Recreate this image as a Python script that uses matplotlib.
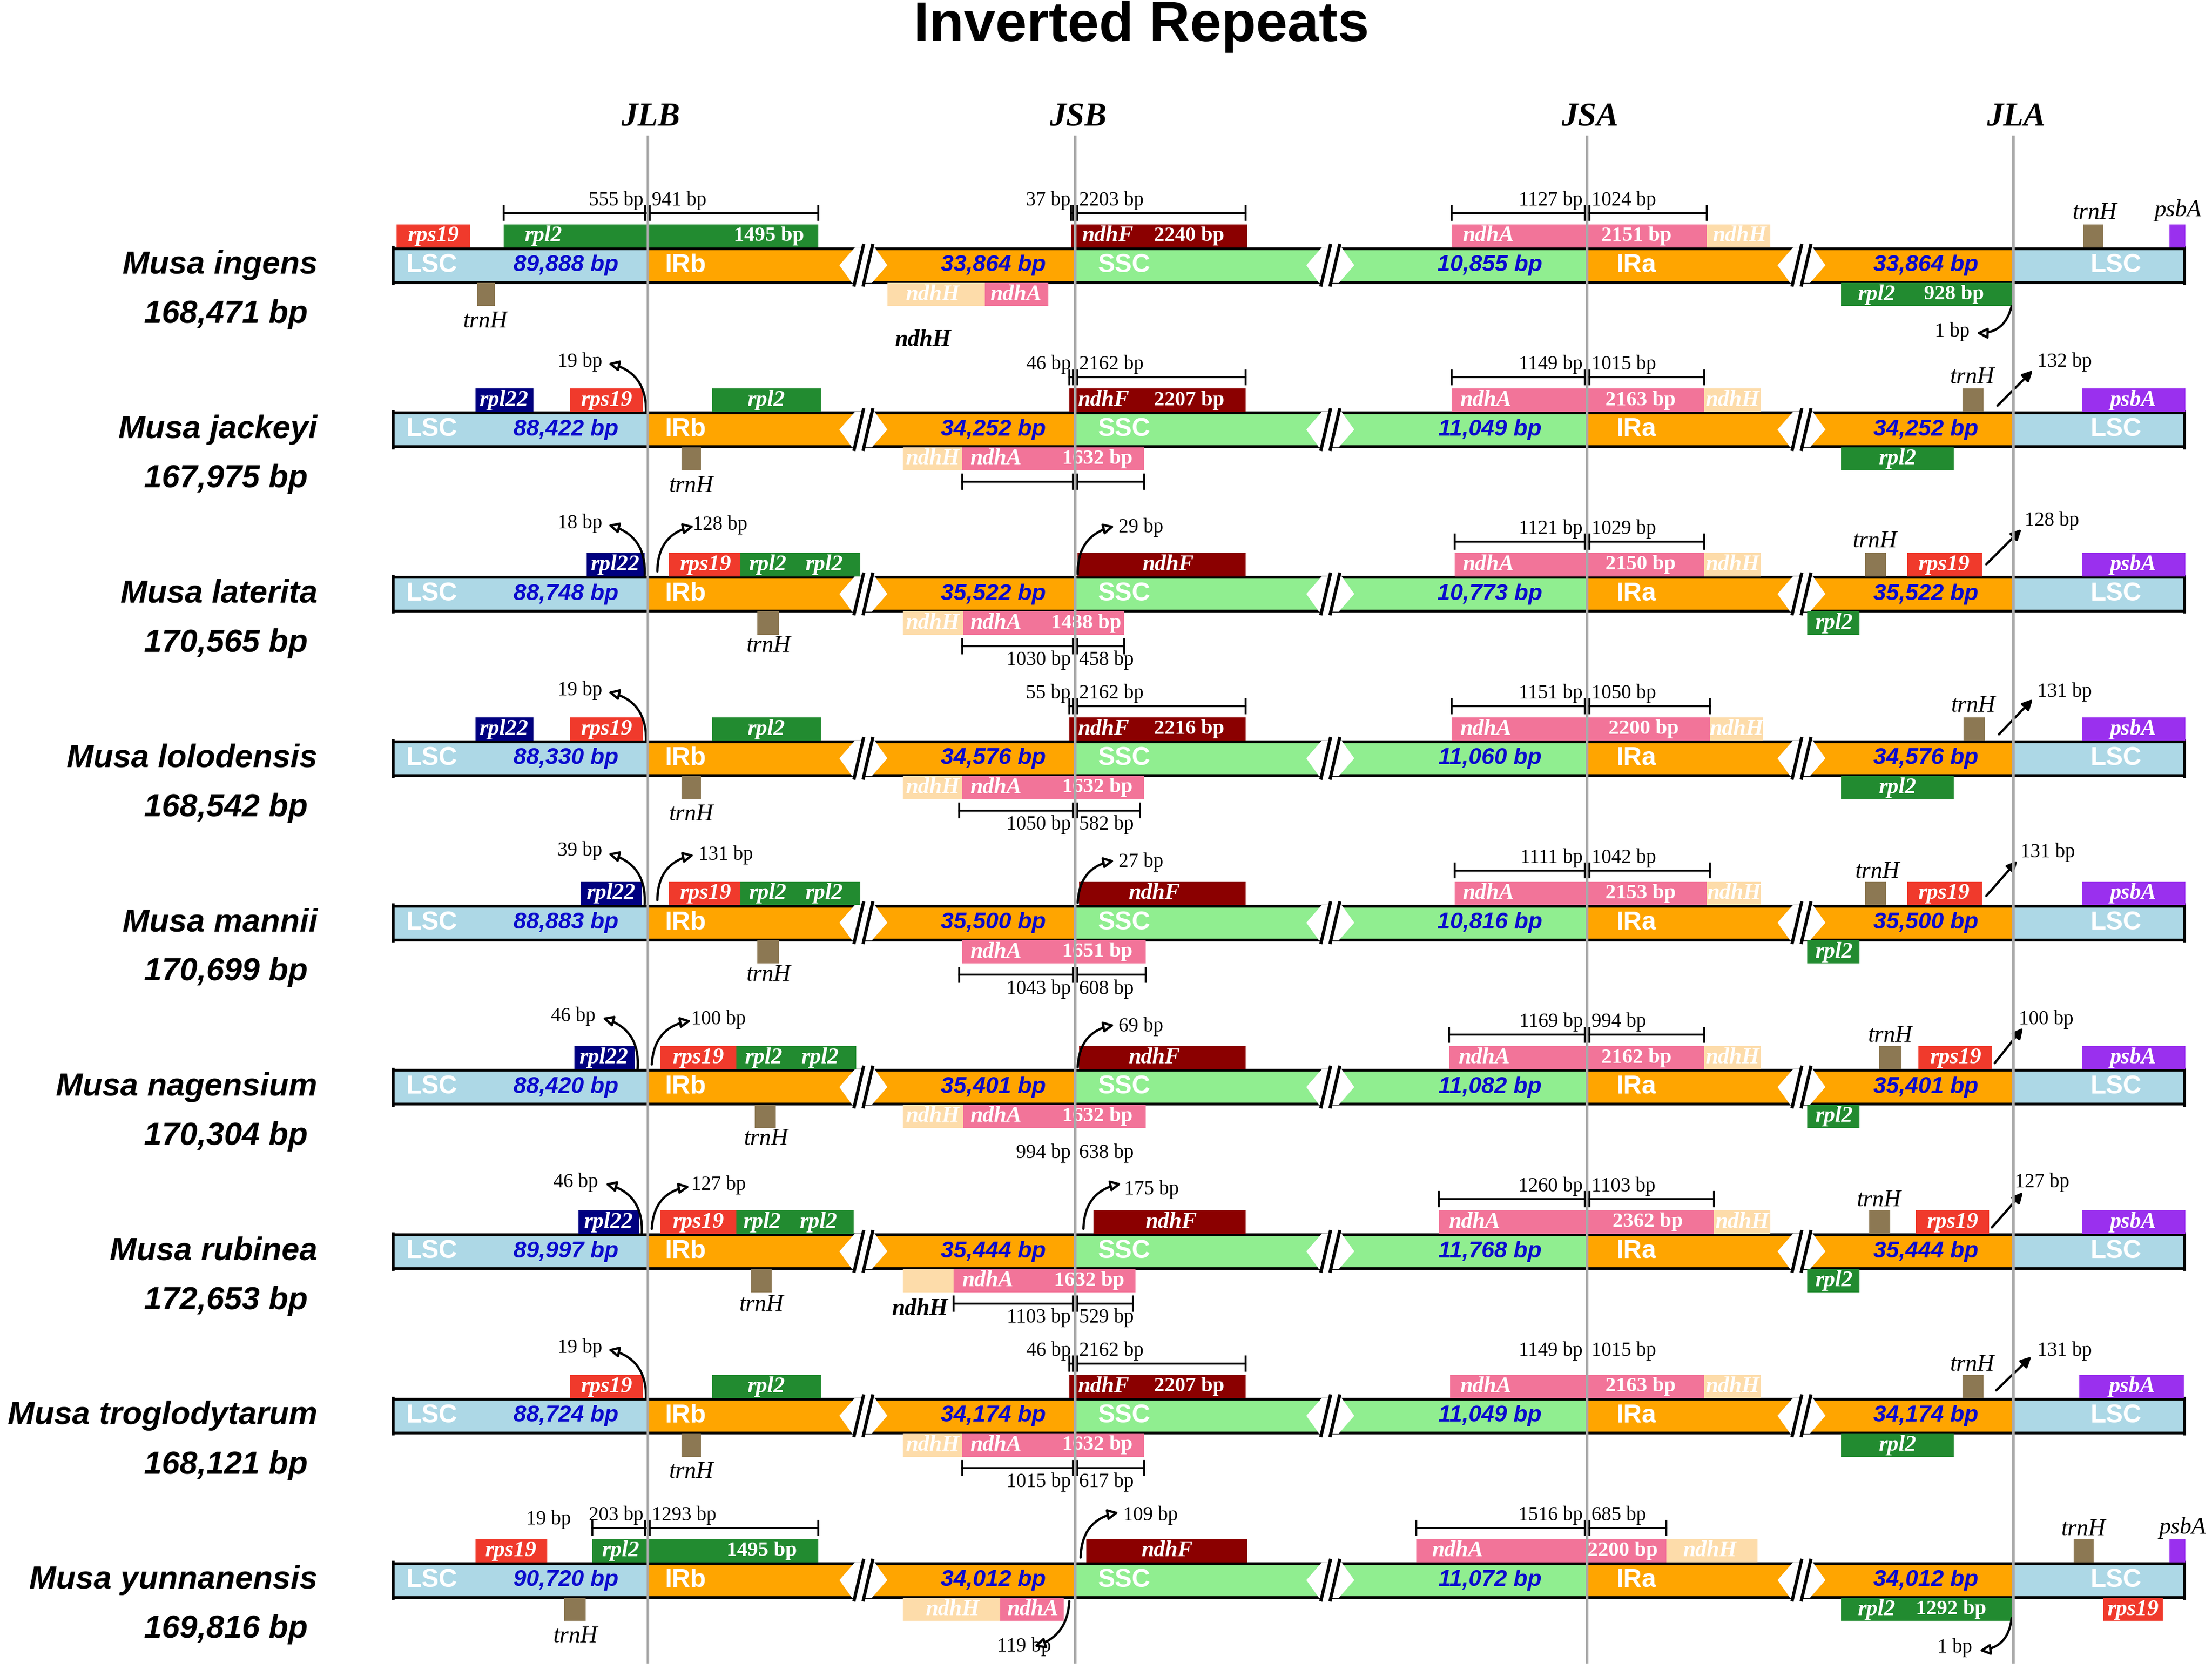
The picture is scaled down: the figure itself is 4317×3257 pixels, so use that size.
import matplotlib
matplotlib.use("Agg")
import matplotlib.pyplot as plt
from matplotlib.patches import Rectangle, Polygon, FancyArrowPatch

# ---------------- data ----------------
title = "Inverted Repeats"
junctions = ["JLB", "JSB", "JSA", "JLA"]
species = ["Musa ingens", "Musa jackeyi", "Musa laterita", "Musa lolodensis",
           "Musa mannii", "Musa nagensium", "Musa rubinea",
           "Musa troglodytarum", "Musa yunnanensis"]
genome_bp = ["168,471 bp", "167,975 bp", "170,565 bp", "168,542 bp",
             "170,699 bp", "170,304 bp", "172,653 bp", "168,121 bp", "169,816 bp"]
lsc_bp = ["89,888", "88,422", "88,748", "88,330", "88,883", "88,420",
          "89,997", "88,724", "90,720"]
ir_bp = ["33,864", "34,252", "35,522", "34,576", "35,500", "35,401",
         "35,444", "34,174", "34,012"]
ssc_bp = ["10,855", "11,049", "10,773", "11,060", "10,816", "11,082",
          "11,768", "11,049", "11,072"]

# ---------------- layout (schematic positions, canvas units) ----------------
CW, CH = 1568, 1183
ROW0, ROWSTEP = 188, 116.5
JX = [459, 762, 1125, 1427]
BAR_X0, BAR_X1 = 278, 1549
BREAKS = [612, 943, 1277]

# per-row feature layout: boxes, tags, brackets, arrows
FEATURES = [
    [  # ingens
        ("box", "rps19", "u", 281, 333, [("rps19", 307)]),
        ("box", "rpl2", "u", 357, 580, [("rpl2", 385), ("1495 bp", 545)]),
        ("box", "trnH", "d", 338, 351, []), ("tag", "trnH", 344, 40),
        ("box", "ndhF", "u", 759, 884, [("ndhF", 785), ("2240 bp", 843)]),
        ("box", "ndhH", "d", 629, 698, [("ndhH", 661)]),
        ("box", "ndhA", "d", 698, 743, [("ndhA", 720)]),
        ("tagb", "ndhH", 654, 53),
        ("box", "ndhA", "u", 1029, 1210, [("ndhA", 1055), ("2151 bp", 1160)]),
        ("box", "ndhH", "u", 1210, 1255, [("ndhH", 1233)]),
        ("box", "rpl2", "d", 1305, 1426, [("rpl2", 1330), ("928 bp", 1385)]),
        ("box", "trnH", "u", 1477, 1491, []), ("tag", "trnH", 1485, -37),
        ("box", "psbA", "u", 1538, 1549, []), ("tag", "psbA", 1544, -39),
        ("brk", "u", 357, 459, 580, "555 bp", "941 bp", True),
        ("brk", "u", 759, 762, 883, "37 bp", "2203 bp", True),
        ("brk", "u", 1029, 1125, 1210, "1127 bp", "1024 bp", True),
        ("arc", (1426, 29), (1401, 48), -0.4, "1 bp", 1396, 47, "right"),
    ],
    [  # jackeyi
        ("box", "rpl22", "u", 337, 378, [("rpl22", 357)]),
        ("box", "rps19", "u", 404, 456, [("rps19", 430)]),
        ("arc", (458, -13), (431, -47), 0.4, "19 bp", 427, -48, "right"),
        ("box", "rpl2", "u", 505, 582, [("rpl2", 543)]),
        ("box", "trnH", "d", 483, 497, []), ("tag", "trnH", 490, 40),
        ("box", "ndhF", "u", 758, 883, [("ndhF", 782), ("2207 bp", 843)]),
        ("brk", "u", 758, 762, 883, "46 bp", "2162 bp", True),
        ("box", "ndhH", "d", 640, 682, [("ndhH", 661)]),
        ("box", "ndhA", "d", 682, 811, [("ndhA", 706), ("1632 bp", 778)]),
        ("brk", "d", 682, 762, 811, "", "", True),
        ("box", "ndhA", "u", 1029, 1208, [("ndhA", 1053), ("2163 bp", 1163)]),
        ("box", "ndhH", "u", 1208, 1248, [("ndhH", 1228)]),
        ("brk", "u", 1029, 1125, 1208, "1149 bp", "1015 bp", True),
        ("box", "trnH", "u", 1391, 1406, []), ("tag", "trnH", 1398, -37),
        ("arw", (1416, -17), (1441, -42), "132 bp", 1444, -48),
        ("box", "rpl2", "d", 1305, 1385, [("rpl2", 1345)]),
        ("box", "psbA", "u", 1476, 1549, [("psbA", 1512)]),
    ],
    [  # laterita
        ("box", "rpl22", "u", 416, 457, [("rpl22", 436)]),
        ("arc", (457, -13), (431, -49), 0.4, "18 bp", 427, -50, "right"),
        ("box", "rps19", "u", 474, 525, [("rps19", 500)]),
        ("box", "rpl2", "u", 525, 610, [("rpl2", 544), ("rpl2", 584)]),
        ("arc", (466, -16), (492, -48), -0.4, "128 bp", 491, -49, "left"),
        ("box", "trnH", "d", 537, 552, []), ("tag", "trnH", 545, 37),
        ("box", "ndhF", "u", 764, 883, [("ndhF", 828)]),
        ("arc", (764, -14), (790, -48), -0.4, "29 bp", 793, -47, "left"),
        ("box", "ndhH", "d", 640, 683, [("ndhH", 661)]),
        ("box", "ndhA", "d", 683, 797, [("ndhA", 706), ("1488 bp", 770)]),
        ("brk", "d", 682, 762, 797, "1030 bp", "458 bp", True),
        ("box", "ndhA", "u", 1031, 1208, [("ndhA", 1055), ("2150 bp", 1163)]),
        ("box", "ndhH", "u", 1208, 1248, [("ndhH", 1228)]),
        ("brk", "u", 1031, 1125, 1208, "1121 bp", "1029 bp", True),
        ("box", "trnH", "u", 1322, 1337, []), ("tag", "trnH", 1329, -37),
        ("box", "rps19", "u", 1352, 1405, [("rps19", 1378)]),
        ("arw", (1408, -21), (1433, -46), "128 bp", 1435, -52),
        ("box", "rpl2", "d", 1281, 1318, [("rpl2", 1300)]),
        ("box", "psbA", "u", 1476, 1549, [("psbA", 1512)]),
    ],
    [  # lolodensis
        ("box", "rpl22", "u", 337, 378, [("rpl22", 357)]),
        ("box", "rps19", "u", 404, 456, [("rps19", 430)]),
        ("arc", (458, -13), (431, -47), 0.4, "19 bp", 427, -48, "right"),
        ("box", "rpl2", "u", 505, 582, [("rpl2", 543)]),
        ("box", "trnH", "d", 483, 497, []), ("tag", "trnH", 490, 40),
        ("box", "ndhF", "u", 758, 883, [("ndhF", 782), ("2216 bp", 843)]),
        ("brk", "u", 758, 762, 883, "55 bp", "2162 bp", True),
        ("box", "ndhH", "d", 640, 682, [("ndhH", 661)]),
        ("box", "ndhA", "d", 682, 811, [("ndhA", 706), ("1632 bp", 778)]),
        ("brk", "d", 680, 762, 808, "1050 bp", "582 bp", True),
        ("box", "ndhA", "u", 1029, 1212, [("ndhA", 1053), ("2200 bp", 1165)]),
        ("box", "ndhH", "u", 1212, 1250, [("ndhH", 1231)]),
        ("brk", "u", 1029, 1125, 1212, "1151 bp", "1050 bp", True),
        ("box", "trnH", "u", 1392, 1407, []), ("tag", "trnH", 1399, -37),
        ("arw", (1417, -17), (1441, -42), "131 bp", 1444, -47),
        ("box", "rpl2", "d", 1305, 1385, [("rpl2", 1345)]),
        ("box", "psbA", "u", 1476, 1549, [("psbA", 1512)]),
    ],
    [  # mannii
        ("box", "rpl22", "u", 412, 455, [("rpl22", 433)]),
        ("arc", (457, -13), (431, -49), 0.4, "39 bp", 427, -51, "right"),
        ("box", "rps19", "u", 474, 525, [("rps19", 500)]),
        ("box", "rpl2", "u", 525, 610, [("rpl2", 544), ("rpl2", 584)]),
        ("arc", (466, -16), (492, -48), -0.4, "131 bp", 495, -48, "left"),
        ("box", "trnH", "d", 537, 552, []), ("tag", "trnH", 545, 37),
        ("box", "ndhF", "u", 765, 883, [("ndhF", 818)]),
        ("arc", (764, -14), (790, -44), -0.4, "27 bp", 793, -43, "left"),
        ("box", "ndhA", "d", 682, 812, [("ndhA", 706), ("1651 bp", 778)]),
        ("brk", "d", 680, 762, 812, "1043 bp", "608 bp", True),
        ("box", "ndhA", "u", 1031, 1210, [("ndhA", 1055), ("2153 bp", 1163)]),
        ("box", "ndhH", "u", 1210, 1248, [("ndhH", 1229)]),
        ("brk", "u", 1031, 1125, 1212, "1111 bp", "1042 bp", True),
        ("box", "trnH", "u", 1322, 1337, []), ("tag", "trnH", 1331, -36),
        ("box", "rps19", "u", 1352, 1405, [("rps19", 1378)]),
        ("arw", (1408, -19), (1430, -44), "131 bp", 1432, -50),
        ("box", "rpl2", "d", 1281, 1318, [("rpl2", 1300)]),
        ("box", "psbA", "u", 1476, 1549, [("psbA", 1512)]),
    ],
    [  # nagensium
        ("box", "rpl22", "u", 407, 450, [("rpl22", 428)]),
        ("arc", (452, -13), (427, -49), 0.4, "46 bp", 422, -50, "right"),
        ("box", "rps19", "u", 468, 522, [("rps19", 495)]),
        ("box", "rpl2", "u", 522, 607, [("rpl2", 541), ("rpl2", 581)]),
        ("arc", (462, -16), (490, -47), -0.4, "100 bp", 490, -48, "left"),
        ("box", "trnH", "d", 535, 550, []), ("tag", "trnH", 543, 37),
        ("box", "ndhF", "u", 765, 883, [("ndhF", 818)]),
        ("arc", (764, -14), (790, -44), -0.4, "69 bp", 793, -43, "left"),
        ("box", "ndhH", "d", 640, 683, [("ndhH", 661)]),
        ("box", "ndhA", "d", 683, 812, [("ndhA", 706), ("1632 bp", 778)]),
        ("brk", "d", 683, 762, 812, "994 bp", "638 bp", False),
        ("box", "ndhA", "u", 1027, 1208, [("ndhA", 1052), ("2162 bp", 1160)]),
        ("box", "ndhH", "u", 1208, 1248, [("ndhH", 1228)]),
        ("brk", "u", 1027, 1125, 1208, "1169 bp", "994 bp", True),
        ("box", "trnH", "u", 1332, 1348, []), ("tag", "trnH", 1340, -36),
        ("box", "rps19", "u", 1360, 1412, [("rps19", 1386)]),
        ("arw", (1414, -17), (1434, -42), "100 bp", 1431, -48),
        ("box", "rpl2", "d", 1281, 1318, [("rpl2", 1300)]),
        ("box", "psbA", "u", 1476, 1549, [("psbA", 1512)]),
    ],
    [  # rubinea
        ("box", "rpl22", "u", 410, 453, [("rpl22", 431)]),
        ("arc", (455, -13), (429, -48), 0.4, "46 bp", 424, -49, "right"),
        ("box", "rps19", "u", 468, 522, [("rps19", 495)]),
        ("box", "rpl2", "u", 522, 605, [("rpl2", 540), ("rpl2", 580)]),
        ("arc", (462, -16), (489, -46), -0.4, "127 bp", 490, -47, "left"),
        ("box", "trnH", "d", 532, 547, []), ("tag", "trnH", 540, 38),
        ("box", "ndhF", "u", 775, 883, [("ndhF", 830)]),
        ("arc", (768, -16), (795, -48), -0.4, "175 bp", 797, -44, "left"),
        ("box", "ndhH", "d", 640, 676, []),
        ("box", "ndhA", "d", 676, 805, [("ndhA", 700), ("1632 bp", 772)]),
        ("tagb", "ndhH", 652, 41),
        ("brk", "d", 676, 762, 803, "1103 bp", "529 bp", True),
        ("box", "ndhA", "u", 1020, 1215, [("ndhA", 1045), ("2362 bp", 1168)]),
        ("box", "ndhH", "u", 1215, 1255, [("ndhH", 1235)]),
        ("brk", "u", 1020, 1125, 1215, "1260 bp", "1103 bp", True),
        ("box", "trnH", "u", 1325, 1340, []), ("tag", "trnH", 1332, -36),
        ("box", "rps19", "u", 1358, 1410, [("rps19", 1384)]),
        ("arw", (1412, -17), (1434, -42), "127 bp", 1428, -49),
        ("box", "rpl2", "d", 1281, 1318, [("rpl2", 1300)]),
        ("box", "psbA", "u", 1476, 1549, [("psbA", 1512)]),
    ],
    [  # troglodytarum
        ("box", "rps19", "u", 404, 456, [("rps19", 430)]),
        ("arc", (458, -13), (431, -47), 0.4, "19 bp", 427, -48, "right"),
        ("box", "rpl2", "u", 505, 582, [("rpl2", 543)]),
        ("box", "trnH", "d", 483, 497, []), ("tag", "trnH", 490, 40),
        ("box", "ndhF", "u", 758, 883, [("ndhF", 782), ("2207 bp", 843)]),
        ("brk", "u", 758, 762, 883, "46 bp", "2162 bp", True),
        ("box", "ndhH", "d", 640, 682, [("ndhH", 661)]),
        ("box", "ndhA", "d", 682, 811, [("ndhA", 706), ("1632 bp", 778)]),
        ("brk", "d", 682, 762, 811, "1015 bp", "617 bp", True),
        ("box", "ndhA", "u", 1028, 1208, [("ndhA", 1053), ("2163 bp", 1163)]),
        ("box", "ndhH", "u", 1208, 1248, [("ndhH", 1228)]),
        ("brk", "u", 1028, 1125, 1208, "1149 bp", "1015 bp", False),
        ("box", "trnH", "u", 1391, 1406, []), ("tag", "trnH", 1398, -36),
        ("arw", (1415, -18), (1440, -42), "131 bp", 1444, -46),
        ("box", "rpl2", "d", 1305, 1385, [("rpl2", 1345)]),
        ("box", "psbA", "u", 1474, 1548, [("psbA", 1511)]),
    ],
    [  # yunnanensis
        ("box", "rps19", "u", 337, 388, [("rps19", 362)]),
        ("note", "19 bp", 389, -43),
        ("box", "rpl2", "u", 420, 580, [("rpl2", 440), ("1495 bp", 540)]),
        ("brk", "u", 420, 459, 580, "203 bp", "1293 bp", True),
        ("box", "trnH", "d", 400, 415, []), ("tag", "trnH", 408, 40),
        ("box", "ndhF", "u", 770, 884, [("ndhF", 827)]),
        ("arc", (766, -16), (793, -48), -0.4, "109 bp", 796, -46, "left"),
        ("box", "ndhH", "d", 640, 709, [("ndhH", 675)]),
        ("box", "ndhA", "d", 709, 754, [("ndhA", 732)]),
        ("arc", (758, 15), (733, 47), -0.35, "119 bp", 726, 47, "center"),
        ("box", "ndhA", "u", 1004, 1181, [("ndhA", 1033), ("2200 bp", 1150)]),
        ("box", "ndhH", "u", 1181, 1246, [("ndhH", 1212)]),
        ("brk", "u", 1004, 1125, 1181, "1516 bp", "685 bp", True),
        ("box", "rpl2", "d", 1305, 1426, [("rpl2", 1330), ("1292 bp", 1383)]),
        ("arc", (1426, 27), (1403, 50), -0.4, "1 bp", 1398, 48, "right"),
        ("box", "trnH", "u", 1470, 1484, []), ("tag", "trnH", 1477, -36),
        ("box", "psbA", "u", 1538, 1549, []), ("tag", "psbA", 1547, -37),
        ("box", "rps19", "d", 1491, 1533, [("rps19", 1512)]),
    ],
]

# ---------------- styles ----------------
SERIF = "Liberation Serif"
SANS = "Liberation Sans"
COL = dict(LSC="#ADD8E6", IR="#FFA500", SSC="#90EE90",
           rps19="#F03A2C", rpl2="#228B30", rpl22="#000080", trnH="#8C7853",
           ndhF="#8B0000", ndhA="#F27499", ndhH="#FDDCAA", psbA="#9A30EE")
BLUE = "#0A0ACD"
GRAY = "#A9A9A9"

W, H, DPI = 4317, 3257, 300
fig = plt.figure(figsize=(W / DPI, H / DPI), dpi=DPI)
ax = fig.add_axes([0, 0, 1, 1])
ax.set_xlim(0, CW)
ax.set_ylim(CH, 0)
ax.axis("off")

ax.text(809, 19, title, ha="center", va="center", family=SANS,
        weight="bold", size=26.5)
for jx, jn in zip(JX, junctions):
    ax.text(jx + 2, 83, jn, ha="center", va="center", family=SERIF,
            style="italic", weight="bold", size=15.5)
    ax.plot([jx, jx], [96, 1179], color=GRAY, lw=1.2, zorder=10,
            solid_capstyle="butt")

regions = [("LSC", BAR_X0, JX[0], COL["LSC"]), ("IRb", JX[0], JX[1], COL["IR"]),
           ("SSC", JX[1], JX[2], COL["SSC"]), ("IRa", JX[2], JX[3], COL["IR"]),
           ("LSC", JX[3], BAR_X1, COL["LSC"])]
REGION_LABEL_X = [306, 486, 797, 1160, 1500]
VALUE_X = [401, 704, 1056, 1365]


def box(yc, gene, side, x0, x1, labels):
    y0, y1 = (yc - 29, yc - 12.5) if side == "u" else (yc + 12.5, yc + 29)
    ax.add_patch(Rectangle((x0, y0), x1 - x0, y1 - y0, fc=COL[gene],
                           ec="none", zorder=3))
    for t, x in labels:
        if t.endswith("bp"):
            ax.text(x, (y0 + y1) / 2, t, ha="center", va="center", family=SERIF,
                    weight="bold", size=9.8, color="white", zorder=5)
        else:
            ax.text(x, (y0 + y1) / 2, t, ha="center", va="center", family=SERIF,
                    style="italic", weight="bold", size=10.6, color="white",
                    zorder=5)


def bracket(yc, side, x0, xm, x1, lt, rt, line):
    y = yc - 37 if side == "u" else yc + 37
    ty = yc - 46 if side == "u" else yc + 47
    if line:
        ax.plot([x0, x1], [y, y], color="k", lw=0.9, zorder=6)
        for x in (x0, xm - 1.6, xm + 1.6, x1):
            ax.plot([x, x], [y - 5, y + 5], color="k", lw=0.9, zorder=6)
    if lt:
        ax.text(xm - 3, ty, lt, ha="right", va="center", family=SERIF,
                size=9.3, zorder=6)
    if rt:
        ax.text(xm + 3, ty, rt, ha="left", va="center", family=SERIF,
                size=9.3, zorder=6)


def arrow(yc, p0, p1, rad, fc):
    a = FancyArrowPatch((p0[0], yc + p0[1]), (p1[0], yc + p1[1]),
                        connectionstyle=f"arc3,rad={rad}",
                        arrowstyle="-|>,head_length=4,head_width=2",
                        mutation_scale=1, lw=1.1, ec="k", fc=fc,
                        shrinkA=0, shrinkB=0, zorder=7)
    ax.add_patch(a)


def draw_break(yc, cx):
    ax.add_patch(Polygon([(cx - 17, yc), (cx - 6, yc - 12.6), (cx + 8, yc - 12.6),
                          (cx + 17, yc), (cx + 6, yc + 12.6), (cx - 8, yc + 12.6)],
                         closed=True, fc="white", ec="none", zorder=2.5))
    ax.add_patch(Rectangle((cx - 1, yc - 14.5), 8, 3.5, fc="white", ec="none",
                           zorder=2.6))
    ax.add_patch(Rectangle((cx - 7, yc + 11), 8, 3.5, fc="white", ec="none",
                           zorder=2.6))
    ax.plot([cx - 6.5, cx], [yc + 14, yc - 14], color="k", lw=1.5, zorder=2.8)
    ax.plot([cx, cx + 6.5], [yc + 14, yc - 14], color="k", lw=1.5, zorder=2.8)


for i, sp in enumerate(species):
    yc = ROW0 + i * ROWSTEP
    ax.text(225, yc, sp, ha="right", va="center", family=SANS, style="italic",
            weight="bold", size=15.1)
    ax.text(218, yc + 35, genome_bp[i], ha="right", va="center", family=SANS,
            style="italic", weight="bold", size=15)
    for (name, x0, x1, c) in regions:
        ax.add_patch(Rectangle((x0, yc - 12.5), x1 - x0, 25, fc=c, ec="none",
                               zorder=1))
    for yy in (yc - 12, yc + 12):
        ax.plot([BAR_X0, BAR_X1], [yy, yy], color="k", lw=1.3, zorder=2,
                solid_capstyle="butt")
    for xx in (BAR_X0 + 0.6, BAR_X1 - 0.6):
        ax.plot([xx, xx], [yc - 12.8, yc + 12.8], color="k", lw=1.3, zorder=2)
    for cx in BREAKS:
        draw_break(yc, cx)
    for (name, x0, x1, c), lx in zip(regions, REGION_LABEL_X):
        ax.text(lx, yc, name, ha="center", va="center", family=SANS,
                weight="bold", size=12, color="white", zorder=4)
    for v, vx in zip([lsc_bp[i], ir_bp[i], ssc_bp[i], ir_bp[i]], VALUE_X):
        ax.text(vx, yc, f"{v} bp", ha="center", va="center", family=SANS,
                style="italic", weight="bold", size=10.8, color=BLUE, zorder=4)

    for f in FEATURES[i]:
        kind = f[0]
        if kind == "box":
            box(yc, *f[1:])
        elif kind in ("tag", "tagb"):
            ax.text(f[2], yc + f[3], f[1], ha="center", va="center",
                    family=SERIF, style="italic",
                    weight="bold" if kind == "tagb" else "normal",
                    size=11, zorder=6)
        elif kind == "note":
            ax.text(f[2], yc + f[3], f[1], ha="center", va="center",
                    family=SERIF, size=9.3, zorder=6)
        elif kind == "brk":
            bracket(yc, *f[1:])
        elif kind == "arc":
            _, p0, p1, rad, t, tx, tdy, ha = f
            arrow(yc, p0, p1, rad, "white")
            ax.text(tx, yc + tdy, t, ha=ha, va="center", family=SERIF,
                    size=9.3, zorder=6)
        elif kind == "arw":
            _, p0, p1, t, tx, tdy = f
            arrow(yc, p0, p1, 0.0, "k")
            ax.text(tx, yc + tdy, t, ha="left", va="center", family=SERIF,
                    size=9.3, zorder=6)

fig.savefig("out.png", dpi=DPI, facecolor="white")
